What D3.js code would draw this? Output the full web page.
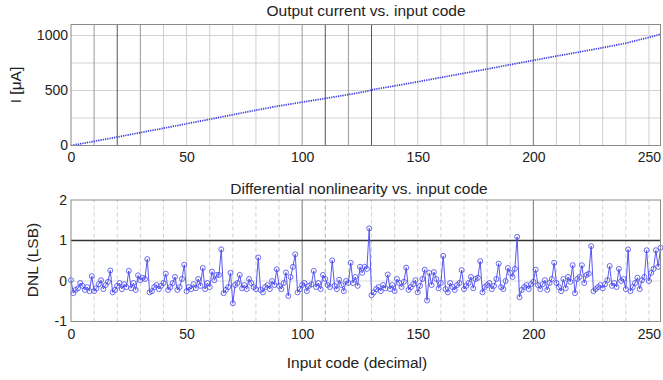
<!DOCTYPE html>
<html>
<head>
<meta charset="utf-8">
<script src="https://cdn.jsdelivr.net/npm/d3@7"></script>
<style>
  body { margin: 0; background: #fff; }
  text { font-family: "Liberation Sans", Arial, sans-serif; fill: #222; }
</style>
</head>
<body>
<svg id="chart" width="663" height="380"></svg>
<script>
// measured output current (uA) at selected input codes
const curCodes = [0, 10, 20, 30, 40, 50, 60, 70, 80, 90, 100, 110, 120, 128, 130, 140, 150, 160, 170, 180, 190, 200, 210, 220, 230, 240, 250, 255];
const curValues = [0, 38, 77, 117, 157, 198, 238, 280, 321, 360, 394, 428, 463, 493, 506, 542, 579, 618, 657, 695, 735, 774, 813, 850, 889, 930, 983, 1012];

// DNL (LSB) for input codes 0..255
const dnl = [
  0.02, -0.30, -0.22, -0.18, -0.05, -0.12, -0.22, -0.15, -0.25, 0.12,
  -0.25, -0.18, -0.08, 0.02, -0.20, -0.10, -0.02, 0.26, -0.28, -0.22,
  -0.12, -0.05, -0.20, -0.08, -0.15, 0.25, -0.18, -0.05, -0.22, 0.14,
  0.02, 0.08, 0.05, 0.54, -0.28, -0.25, -0.15, -0.10, -0.20, -0.12,
  -0.05, 0.18, -0.22, -0.15, -0.05, 0.10, -0.22, -0.15, 0.05, 0.40,
  -0.25, -0.15, -0.20, -0.08, -0.18, 0.05, -0.12, 0.32, -0.20, -0.05,
  -0.15, 0.23, 0.02, 0.15, 0.15, 0.78, -0.30, -0.22, -0.15, 0.20,
  -0.55, -0.10, -0.05, 0.15, -0.18, -0.10, -0.20, 0.05, -0.05, -0.15,
  -0.20, 0.58, -0.22, -0.28, -0.15, -0.10, -0.20, 0.00, -0.10, 0.29,
  -0.12, -0.20, -0.05, 0.21, -0.37, 0.10, 0.35, 0.66, -0.28, -0.20,
  -0.10, -0.05, -0.25, -0.12, -0.08, 0.25, -0.15, -0.05, -0.20, 0.15,
  0.05, -0.10, -0.15, 0.51, -0.12, -0.20, 0.03, -0.10, -0.25, 0.00,
  -0.05, 0.45, -0.05, 0.10, -0.12, 0.35, 0.20, 0.35, 0.30, 1.30,
  -0.35, -0.28, -0.20, -0.15, -0.25, -0.10, -0.18, 0.16, -0.20, -0.10,
  -0.25, 0.05, -0.05, -0.15, -0.02, 0.33, -0.22, -0.15, -0.08, 0.02,
  -0.28, -0.12, 0.05, 0.28, -0.48, 0.20, -0.10, 0.22, 0.05, -0.18,
  -0.05, 0.62, -0.20, -0.28, -0.05, -0.15, -0.22, -0.10, -0.05, 0.27,
  -0.20, -0.12, -0.05, 0.10, -0.18, 0.05, 0.08, 0.49, -0.28, -0.15,
  -0.10, -0.05, -0.20, -0.12, 0.05, 0.43, -0.15, -0.20, 0.00, 0.32,
  0.20, 0.10, 0.30, 1.09, -0.40, -0.22, -0.15, -0.10, -0.20, -0.08,
  -0.02, 0.28, -0.10, -0.20, -0.08, 0.02, -0.22, -0.05, 0.05, 0.45,
  -0.05, -0.15, -0.25, 0.05, -0.18, 0.10, -0.02, 0.39, -0.30, 0.05,
  0.10, 0.39, -0.05, 0.15, 0.18, 0.86, -0.25, -0.20, -0.15, -0.10,
  -0.18, -0.08, 0.02, 0.37, -0.12, -0.05, -0.15, 0.30, 0.00, 0.05,
  -0.20, 0.78, -0.25, -0.15, -0.05, 0.08, -0.20, 0.02, 0.10, 0.76,
  0.00, 0.20, 0.30, 0.76, 0.35, 0.82
];

const xTicks = [0, 50, 100, 150, 200, 250];
const gridX = [10, 20, 30, 40, 50, 60, 70, 80, 90, 100, 110, 120, 130, 140, 150, 160, 170, 180, 190, 200, 210, 220, 230, 240, 250];
const topYTicks = [0, 500, 1000];
const topGridY = [250, 500, 750, 1000];
const botYTicks = [-1, 0, 1, 2];

const svg = d3.select("#chart");
const x = d3.scaleLinear().domain([0, 255]).range([71, 660.5]);
const yTop = d3.scaleLinear().domain([0, 1100]).range([145.5, 24.5]);
const yBot = d3.scaleLinear().domain([-1, 2]).range([321.5, 200]);
const plain = d => String(d); // matlab style labels: 1000, -1

// grid shading like the scanned figure
const topDark = { 20: "#555", 110: "#555", 130: "#555", 200: "#777", 10: "#999", 30: "#999", 100: "#999", 120: "#999", 180: "#999" };

// ---------- top panel ----------
const gt = svg.append("g");
gt.selectAll(".hg").data(topGridY).enter().append("line")
  .attr("x1", x(0)).attr("x2", x(255))
  .attr("y1", d => yTop(d)).attr("y2", d => yTop(d))
  .attr("stroke", "#d2d2d2").attr("stroke-width", 1);
gt.selectAll(".vg").data(gridX).enter().append("line")
  .attr("x1", d => x(d)).attr("x2", d => x(d))
  .attr("y1", yTop(0)).attr("y2", yTop(1100))
  .attr("stroke", d => topDark[d] || "#cfcfcf").attr("stroke-width", 1);

gt.append("path")
  .datum(curCodes.map((c, i) => [c, curValues[i]]))
  .attr("fill", "none").attr("stroke", "#3a3ae6").attr("stroke-width", 1.7)
  .attr("stroke-dasharray", "1.3,1")
  .attr("d", d3.line().x(d => x(d[0])).y(d => yTop(d[1])));

gt.append("rect").attr("x", x(0)).attr("y", yTop(1100))
  .attr("width", x(255) - x(0)).attr("height", yTop(0) - yTop(1100))
  .attr("fill", "none").attr("stroke", "#8a8a8a");

gt.append("g").attr("transform", "translate(0," + yTop(0) + ")")
  .call(d3.axisBottom(x).tickValues(xTicks).tickFormat(plain).tickSize(0).tickPadding(7))
  .call(g => g.select(".domain").remove());
gt.append("g").attr("transform", "translate(" + x(0) + ",0)")
  .call(d3.axisLeft(yTop).tickValues(topYTicks).tickFormat(plain).tickSize(0).tickPadding(3))
  .call(g => g.select(".domain").remove());

gt.append("text").attr("x", 366).attr("y", 16).attr("text-anchor", "middle")
  .attr("font-size", "15.5px").text("Output current vs. input code");
gt.append("text").attr("transform", "translate(21,85) rotate(-90)")
  .attr("text-anchor", "middle").attr("font-size", "15.5px").text("I [\u03bcA]");

// ---------- bottom panel ----------
const gb = svg.append("g");
gb.append("line").attr("x1", x(0)).attr("x2", x(255))
  .attr("y1", yBot(0)).attr("y2", yBot(0))
  .attr("stroke", "#dcdcdc");
gb.selectAll(".vg").data(gridX).enter().append("line")
  .attr("x1", d => x(d)).attr("x2", d => x(d))
  .attr("y1", yBot(-1)).attr("y2", yBot(2))
  .attr("stroke", d => (d === 100 || d === 200) ? "#777" : d === 110 ? "#aaa" : "#d0d0d0")
  .attr("stroke-dasharray", d => (d === 50 || d === 100 || d === 200) ? null : "4,3");
gb.append("line").attr("x1", x(0)).attr("x2", x(255))
  .attr("y1", yBot(1)).attr("y2", yBot(1))
  .attr("stroke", "#333").attr("stroke-width", 1.3);

gb.append("path").datum(dnl)
  .attr("fill", "none").attr("stroke", "#4646ee").attr("stroke-width", 0.9)
  .attr("d", d3.line().x((d, i) => x(i)).y(d => yBot(d)));
gb.selectAll(".pt").data(dnl).enter().append("circle")
  .attr("cx", (d, i) => x(i)).attr("cy", d => yBot(d)).attr("r", 2.5)
  .attr("fill", "none").attr("stroke", "#4646ee").attr("stroke-width", 0.8);

gb.append("rect").attr("x", x(0)).attr("y", yBot(2))
  .attr("width", x(255) - x(0)).attr("height", yBot(-1) - yBot(2))
  .attr("fill", "none").attr("stroke", "#8a8a8a");

gb.append("g").attr("transform", "translate(0," + yBot(-1) + ")")
  .call(d3.axisBottom(x).tickValues(xTicks).tickFormat(plain).tickSize(0).tickPadding(7.5))
  .call(g => g.select(".domain").remove());
gb.append("g").attr("transform", "translate(" + x(0) + ",0)")
  .call(d3.axisLeft(yBot).tickValues(botYTicks).tickFormat(plain).tickSize(0).tickPadding(4))
  .call(g => g.select(".domain").remove());

gb.append("text").attr("x", 359).attr("y", 194).attr("text-anchor", "middle")
  .attr("font-size", "15.5px").text("Differential nonlinearity vs. input code");
gb.append("text").attr("transform", "translate(38,260) rotate(-90)")
  .attr("text-anchor", "middle").attr("font-size", "15.5px").text("DNL (LSB)");
gb.append("text").attr("x", 357).attr("y", 368).attr("text-anchor", "middle")
  .attr("font-size", "15.5px").text("Input code (decimal)");

svg.selectAll(".tick text").attr("font-size", "14px").attr("fill", "#222");
</script>
</body>
</html>
